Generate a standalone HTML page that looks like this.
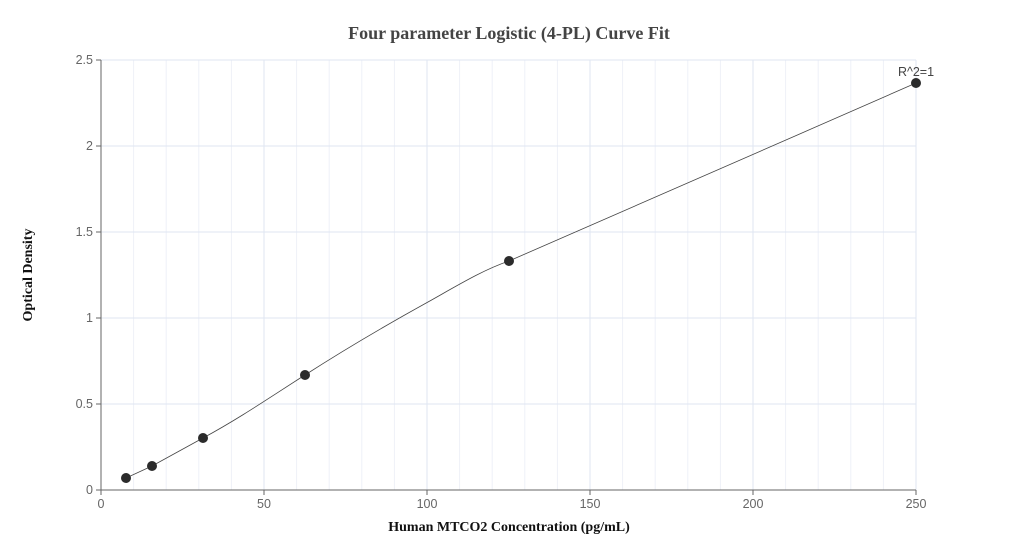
<!DOCTYPE html>
<html><head><style>body{margin:0;background:#fff}svg{display:block;font-family:"Liberation Sans",sans-serif}</style></head>
<body>
<svg width="1018" height="560" xmlns="http://www.w3.org/2000/svg">
<rect width="1018" height="560" fill="#fff"/>
<g stroke="#eef1f8" stroke-width="1">
<line x1="133.6" y1="60" x2="133.6" y2="490"/><line x1="166.2" y1="60" x2="166.2" y2="490"/><line x1="198.8" y1="60" x2="198.8" y2="490"/><line x1="231.4" y1="60" x2="231.4" y2="490"/>
<line x1="296.6" y1="60" x2="296.6" y2="490"/><line x1="329.2" y1="60" x2="329.2" y2="490"/><line x1="361.8" y1="60" x2="361.8" y2="490"/><line x1="394.4" y1="60" x2="394.4" y2="490"/>
<line x1="459.6" y1="60" x2="459.6" y2="490"/><line x1="492.2" y1="60" x2="492.2" y2="490"/><line x1="524.8" y1="60" x2="524.8" y2="490"/><line x1="557.4" y1="60" x2="557.4" y2="490"/>
<line x1="622.6" y1="60" x2="622.6" y2="490"/><line x1="655.2" y1="60" x2="655.2" y2="490"/><line x1="687.8" y1="60" x2="687.8" y2="490"/><line x1="720.4" y1="60" x2="720.4" y2="490"/>
<line x1="785.6" y1="60" x2="785.6" y2="490"/><line x1="818.2" y1="60" x2="818.2" y2="490"/><line x1="850.8" y1="60" x2="850.8" y2="490"/><line x1="883.4" y1="60" x2="883.4" y2="490"/>
</g>
<g stroke="#dfe5f2" stroke-width="1">
<line x1="264" y1="60" x2="264" y2="490"/><line x1="427" y1="60" x2="427" y2="490"/><line x1="590" y1="60" x2="590" y2="490"/><line x1="753" y1="60" x2="753" y2="490"/><line x1="916" y1="60" x2="916" y2="490"/>
<line x1="101" y1="404" x2="916" y2="404"/><line x1="101" y1="318" x2="916" y2="318"/><line x1="101" y1="232" x2="916" y2="232"/><line x1="101" y1="146" x2="916" y2="146"/><line x1="101" y1="60" x2="916" y2="60"/>
</g>
<g stroke="#666" stroke-width="1">
<line x1="101" y1="60" x2="101" y2="490"/><line x1="101" y1="490" x2="916" y2="490"/>
<line x1="96" y1="490" x2="101" y2="490"/><line x1="96" y1="404" x2="101" y2="404"/><line x1="96" y1="318" x2="101" y2="318"/><line x1="96" y1="232" x2="101" y2="232"/><line x1="96" y1="146" x2="101" y2="146"/><line x1="96" y1="60" x2="101" y2="60"/>
<line x1="101" y1="490" x2="101" y2="495"/><line x1="264" y1="490" x2="264" y2="495"/><line x1="427" y1="490" x2="427" y2="495"/><line x1="590" y1="490" x2="590" y2="495"/><line x1="753" y1="490" x2="753" y2="495"/><line x1="916" y1="490" x2="916" y2="495"/>
</g>
<g fill="#666" font-size="12.5" text-anchor="end">
<text x="93" y="494">0</text><text x="93" y="408">0.5</text><text x="93" y="322">1</text><text x="93" y="236">1.5</text><text x="93" y="150">2</text><text x="93" y="64">2.5</text>
</g>
<g fill="#666" font-size="12.5" text-anchor="middle">
<text x="101" y="508">0</text><text x="264" y="508">50</text><text x="427" y="508">100</text><text x="590" y="508">150</text><text x="753" y="508">200</text><text x="916" y="508">250</text>
</g>
<path d="M126,478 L152,466 L203,438 C240,418 272,396 305,375 C350,346 390,323 428,302 C460,284 483,270 509,261 C640,203 780,143 916,83" fill="none" stroke="#444" stroke-width="0.8"/>
<g fill="#2b2b2b">
<circle cx="126" cy="478" r="5"/><circle cx="152" cy="466" r="5"/><circle cx="203" cy="438" r="5"/><circle cx="305" cy="375" r="5"/><circle cx="509" cy="261" r="5"/><circle cx="916" cy="83" r="5"/>
</g>
<text x="916" y="76" font-size="12.5" fill="#444" text-anchor="middle">R^2=1</text>
<text x="509" y="39" font-size="18" font-weight="bold" fill="#444" text-anchor="middle" font-family="Liberation Serif,serif">Four parameter Logistic (4-PL) Curve Fit</text>
<text x="509" y="531" font-size="14" font-weight="bold" fill="#111" text-anchor="middle" font-family="Liberation Serif,serif">Human MTCO2 Concentration (pg/mL)</text>
<text transform="translate(32,275) rotate(-90)" font-size="14" font-weight="bold" fill="#111" text-anchor="middle" font-family="Liberation Serif,serif">Optical Density</text>
</svg>
</body></html>
